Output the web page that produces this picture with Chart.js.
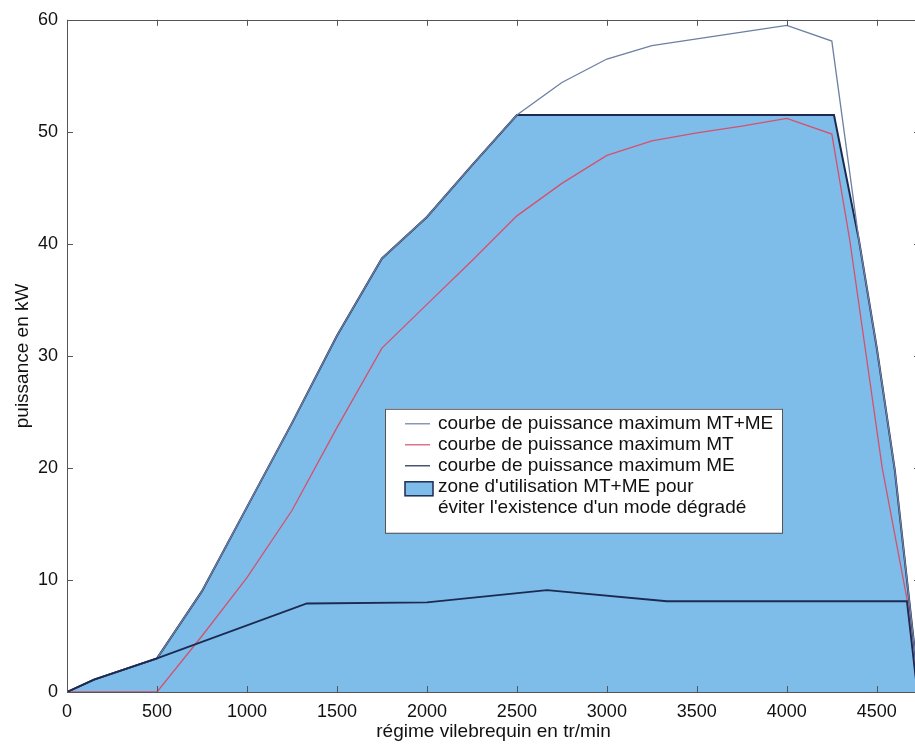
<!DOCTYPE html>
<html><head><meta charset="utf-8">
<script src="https://cdn.jsdelivr.net/npm/chart.js@4/dist/chart.umd.min.js"></script>
<style>
html,body{margin:0;padding:0;background:#fff;overflow:hidden;width:915px;height:745px}
#wrap{position:relative;width:925px;height:745px}
</style></head>
<body><div id="wrap"><canvas id="c" width="925" height="745"></canvas></div>
<script>
// ---- data ----
const xTicks = [0,500,1000,1500,2000,2500,3000,3500,4000,4500];
const yTicks = [0,10,20,30,40,50,60];

const mtmeRpm = [0,150,500,750,1000,1250,1500,1750,2000,2250,2500,2750,3000,3250,3500,3750,4000,4250,4400,4500,4600,4700,4737];
const mtmeKw  = [0,1.1,3.0,9.0,16.5,24.0,31.8,38.7,42.4,47.0,51.5,54.4,56.5,57.7,58.3,58.9,59.5,58.1,40.4,30.7,19.8,5.3,0];

const mtRpm = [0,500,750,1000,1250,1500,1750,2000,2250,2500,2750,3000,3250,3500,3750,4000,4250,4350,4530,4670,4725];
const mtKw  = [0,0,5.0,10.2,16.2,23.6,30.7,34.6,38.5,42.5,45.4,47.9,49.2,49.9,50.5,51.2,49.8,40.3,20.0,8.1,0];

const meRpm = [0,150,500,1333,2000,2667,3333,4000,4667,4725];
const meKw  = [0,1.1,3.0,7.9,8.0,9.1,8.1,8.1,8.1,0];

const zoneRpm = [0,150,500,750,1000,1250,1500,1750,2000,2250,2500,4262,4400,4500,4600,4700,4737];
const zoneKw  = [0,1.1,3.0,9.0,16.5,24.0,31.8,38.7,42.4,47.0,51.5,51.5,40.4,30.7,19.8,5.3,0];

const labels = [
  ['courbe de puissance maximum MT+ME'],
  ['courbe de puissance maximum MT'],
  ['courbe de puissance maximum ME'],
  ["zone d'utilisation MT+ME pour", "éviter l'existence d'un mode dégradé"]
];
const xTitle = 'régime vilebrequin en tr/min';
const yTitle = 'puissance en kW';

const toXY = (xs, ys) => xs.map((x, i) => ({x, y: ys[i]}));

const FONT = "'Liberation Sans', Arial, Helvetica, sans-serif";
Chart.defaults.font.family = FONT;

const boxPlugin = {
  id: 'boxTicks',
  afterDraw(chart) {
    const {ctx, chartArea: a, scales: {x, y}} = chart;
    ctx.save();
    ctx.strokeStyle = '#555';
    ctx.lineWidth = 1;
    ctx.beginPath();
    ctx.rect(Math.round(a.left)+0.5, Math.round(a.top)+0.5, Math.round(a.right-a.left), Math.round(a.bottom-a.top));
    ctx.stroke();
    const tl = 6;
    ctx.beginPath();
    xTicks.forEach(v => {
      const px = Math.round(x.getPixelForValue(v)) + 0.5;
      ctx.moveTo(px, a.bottom); ctx.lineTo(px, a.bottom - tl);
      ctx.moveTo(px, a.top); ctx.lineTo(px, a.top + tl);
    });
    yTicks.forEach(v => {
      const py = Math.round(y.getPixelForValue(v)) + 0.5;
      ctx.moveTo(a.left, py); ctx.lineTo(a.left + tl, py);
      ctx.moveTo(a.right, py); ctx.lineTo(a.right - tl, py);
    });
    ctx.stroke();
    ctx.restore();
  }
};

const legendPlugin = {
  id: 'inLegend',
  afterDraw(chart) {
    const {ctx, chartArea: a} = chart;
    const ds = chart.data.datasets;
    const L = a.left + 318, T = a.top + 389, W = 397, H = 124;
    ctx.save();
    ctx.fillStyle = '#fff';
    ctx.fillRect(L, T, W, H);
    ctx.strokeStyle = '#555';
    ctx.lineWidth = 1;
    ctx.strokeRect(L + 0.5, T + 0.5, W, H);
    ctx.font = '19px ' + FONT;
    ctx.textBaseline = 'middle';
    const rowH = 21;
    let row = 0;
    ds.forEach((d) => {
      const cy = T + 15 + row * rowH;
      if (d.fill) {
        ctx.fillStyle = d.backgroundColor;
        ctx.fillRect(L + 20, cy - 5, 28, 14);
        ctx.strokeStyle = d.borderColor;
        ctx.lineWidth = 1.5;
        ctx.strokeRect(L + 20, cy - 5, 28, 14);
      } else {
        ctx.strokeStyle = d.borderColor;
        ctx.lineWidth = 1.2;
        ctx.beginPath();
        ctx.moveTo(L + 20, cy); ctx.lineTo(L + 45, cy);
        ctx.stroke();
      }
      ctx.fillStyle = '#111';
      d.legendLines.forEach((t, k) => {
        ctx.fillText(t, L + 53, T + 15 + (row + k) * rowH);
      });
      row += d.legendLines.length;
    });
    ctx.restore();
  }
};

new Chart(document.getElementById('c'), {
  type: 'line',
  data: {
    datasets: [
      { label: labels[0][0], legendLines: labels[0], data: toXY(mtmeRpm, mtmeKw),
        borderColor: '#6d7fa3', borderWidth: 1.3, pointRadius: 0, fill: false, order: 2 },
      { label: labels[1][0], legendLines: labels[1], data: toXY(mtRpm, mtKw),
        borderColor: '#d6506c', borderWidth: 1.3, pointRadius: 0, fill: false, order: 1 },
      { label: labels[2][0], legendLines: labels[2], data: toXY(meRpm, meKw),
        borderColor: '#1c2a52', borderWidth: 1.8, pointRadius: 0, fill: false, order: 0 },
      { label: labels[3].join(' '), legendLines: labels[3], data: toXY(zoneRpm, zoneKw),
        borderColor: '#1c2a52', backgroundColor: '#7ebdea', borderWidth: 2, pointRadius: 0,
        fill: 'origin', order: 3 }
    ]
  },
  options: {
    responsive: false,
    animation: false,
    elements: { line: { tension: 0 } },
    layout: { padding: { left: 0, top: 19, right: 5, bottom: 0 } },
    plugins: { legend: { display: false }, tooltip: { enabled: false } },
    scales: {
      x: {
        type: 'linear', min: 0, max: 4740,
        afterBuildTicks: s => { s.ticks = xTicks.map(v => ({value: v})); },
        afterFit: s => { s.height = 53; },
        grid: { display: false, drawTicks: false },
        border: { display: false },
        ticks: { color: '#111', font: { size: 18 }, padding: 9, maxRotation: 0, includeBounds: false,
                 callback: v => String(v) },
        title: { display: true, text: xTitle, color: '#111', font: { size: 19 }, padding: { top: 0, bottom: 2 } }
      },
      y: {
        type: 'linear', min: 0, max: 60,
        afterBuildTicks: s => { s.ticks = yTicks.map(v => ({value: v})); },
        afterFit: s => { s.width = 67; },
        grid: { display: false, drawTicks: false },
        border: { display: false },
        ticks: { color: '#111', font: { size: 18 }, padding: 9, callback: v => String(v) },
        title: { display: true, text: yTitle, color: '#111', font: { size: 19 }, padding: { top: 11, bottom: 0 } }
      }
    }
  },
  plugins: [boxPlugin, legendPlugin]
});
</script>
</body></html>
